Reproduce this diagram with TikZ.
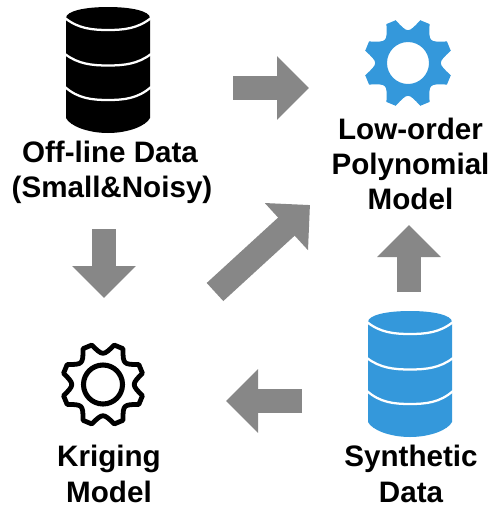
\documentclass[tikz,border=0pt]{standalone}
\usepackage{fontspec}
\setmainfont{Liberation Sans}
\usetikzlibrary{arrows.meta}
\definecolor{iconblue}{HTML}{3498DB}
\definecolor{arrowgray}{HTML}{878787}
\tikzset{
  blockarrow/.style={draw=arrowgray,line width=18.4pt,
    -{Triangle[length=24pt,width=46.5pt,fill=arrowgray]}},
  caption/.style={font=\fontsize{22.2}{26.4}\selectfont\bfseries,align=center,inner sep=0pt,anchor=center,text=black},
}
\newcommand{\dbicon}[3]{%
  \begin{scope}[shift={(#1,#2)}]
    \fill[#3] (66,18) .. controls (66,11) and (85,7) .. (108,7)
      .. controls (131,7) and (150,11) .. (150,18)
      -- (150,118) .. controls (146,126) and (128,133) .. (108,133)
      .. controls (88,133) and (70,126) .. (66,118) -- cycle;
    \foreach \ya/\yb in {18/31,54/66.5,87/101}
      \draw[white,line width=1.7pt] (65,\ya) .. controls (78,\yb-2.5) and (92,\yb-1) .. (108,\yb-1)
        .. controls (124,\yb-1) and (138,\yb-2.5) .. (151,\ya);
  \end{scope}}
\begin{document}
\begin{tikzpicture}[x=0.75pt,y=-0.75pt]
\useasboundingbox (0,0) rectangle (489,508);
% databases
\dbicon{0}{0}{black}
\dbicon{302}{304}{iconblue}
% blue gear
\begin{scope}[shift={(408,63)}]
  \fill[iconblue,even odd rule]
    (16:44.5)
    \foreach \k in {0,45,...,315}{
      -- ({\k+16}:44.5) -- ({\k+29}:44.5)
      .. controls ({\k+45}:29.5) .. ({\k+61}:44.5)
    } -- cycle
    (0,0) circle[radius=21];
\end{scope}
% black gear
\begin{scope}[shift={(103,384.5)}]
  \draw[black,line width=3.6pt,line join=round]
    (16:41)
    \foreach \k in {0,45,...,315}{
      -- ({\k+16}:41) -- ({\k+29}:41)
      .. controls ({\k+45}:28.5) .. ({\k+61}:41)
    } -- cycle;
  \draw[black,line width=3.8pt] (0,0) circle[radius=19.5];
\end{scope}
% labels
\node[caption] (offline) at (110,172) {Off-line Data\\\hspace*{3pt}(Small\&Noisy)};
\node[caption] (poly) at (410.5,164) {Low-order\\Polynomial\\Model};
\node[caption] (kriging) at (109,474) {Kriging\\Model};
\node[caption] (synth) at (411,474) {Synthetic\\Data};
% arrow end points
\coordinate (a1s) at (233,88); \coordinate (a1e) at (309,88);
\coordinate (a2s) at (104,229); \coordinate (a2e) at (104,298);
\coordinate (a3s) at (215,292); \coordinate (a3e) at (310,205);
\coordinate (a4s) at (409,292); \coordinate (a4e) at (409,225);
\coordinate (a5s) at (302,401); \coordinate (a5e) at (226,401);
\draw[blockarrow] (a1s) -- (a1e);
\draw[blockarrow] (a2s) -- (a2e);
\draw[blockarrow] (a3s) -- (a3e);
\draw[blockarrow] (a4s) -- (a4e);
\draw[blockarrow] (a5s) -- (a5e);
\end{tikzpicture}
\end{document}
